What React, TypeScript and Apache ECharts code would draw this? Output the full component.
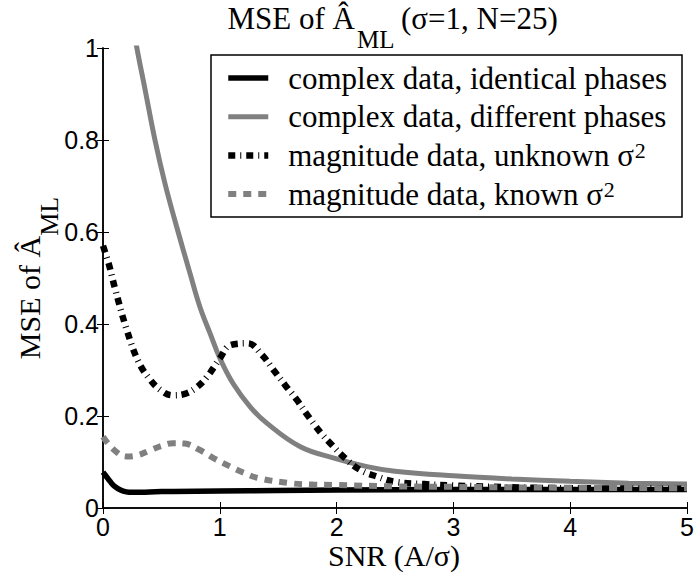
import React, { useEffect, useRef } from 'react';
import * as echarts from 'echarts';

// SNR (A/sigma) samples and MSE values for each curve
const identicalSNR = [0, 0.03, 0.06, 0.1, 0.15, 0.2, 0.25, 0.3, 0.4, 0.6, 1, 1.5, 2, 3, 4, 5];
const identicalMSE = [0.078, 0.068, 0.058, 0.047, 0.039, 0.035, 0.034, 0.034, 0.035, 0.036, 0.037, 0.038, 0.039, 0.04, 0.04, 0.04];

const differentSNR = [0.2, 0.25, 0.29, 0.36, 0.445, 0.53, 0.63, 0.745, 0.83, 0.916, 1.0, 1.115, 1.26, 1.4, 1.69, 1.97, 2.26, 2.5, 3, 3.5, 4, 4.5, 5];
const differentMSE = [1.13, 1.06, 1.0, 0.91, 0.8, 0.706, 0.612, 0.51, 0.437, 0.38, 0.326, 0.27, 0.22, 0.185, 0.133, 0.109, 0.09, 0.08, 0.07, 0.063, 0.058, 0.054, 0.052];

const unknownSNR = [0, 0.05, 0.1, 0.2, 0.3, 0.4, 0.5, 0.6, 0.7, 0.8, 0.89, 1.0, 1.09, 1.24, 1.36, 1.46, 1.56, 1.66, 1.75, 1.86, 1.96, 2.07, 2.2, 2.35, 2.5, 2.75, 3, 3.5, 4, 5];
const unknownMSE = [0.57, 0.53, 0.48, 0.39, 0.32, 0.28, 0.255, 0.245, 0.248, 0.262, 0.285, 0.325, 0.354, 0.358, 0.333, 0.3, 0.267, 0.235, 0.202, 0.165, 0.137, 0.109, 0.083, 0.068, 0.057, 0.052, 0.049, 0.045, 0.043, 0.042];

const knownSNR = [0, 0.1, 0.2, 0.3, 0.4, 0.5, 0.6, 0.7, 0.83, 0.95, 1.09, 1.2, 1.33, 1.6, 1.8, 2.0, 2.5, 3, 4, 5];
const knownMSE = [0.155, 0.125, 0.112, 0.115, 0.125, 0.135, 0.141, 0.14, 0.126, 0.108, 0.09, 0.077, 0.065, 0.054, 0.051, 0.05, 0.047, 0.046, 0.044, 0.043];

const seriesNames = [
  'complex data, identical phases',
  'complex data, different phases',
  'magnitude data, unknown σ2',
  'magnitude data, known σ2',
];
const legendTexts = [
  '{m|complex data, identical phases}',
  '{m|complex data, different phases}',
  '{m|magnitude data, unknown σ}{p|2}',
  '{m|magnitude data, known σ}{p|2}',
];

const titleMain = 'MSE of Â';
const titleSub = 'ML';
const titleRest = '(σ=1, N=25)';
const yNameText = '{a|MSE of Â}{s|ML}';
const xNameText = 'SNR (A/σ)';

const SERIF = 'Liberation Serif';
const SANS = 'Liberation Sans';
const GRAY = '#808080';

function pairs(xs: number[], ys: number[]) {
  return xs.map((x, i) => [x, ys[i]]);
}

export default function App() {
  const ref = useRef<HTMLDivElement>(null);
  useEffect(() => {
    const chart = echarts.init(ref.current!, null, { renderer: 'svg' });
    const axisCommon = {
      type: 'value' as const,
      axisLine: { show: true, lineStyle: { color: '#000', width: 1.5 } },
      axisTick: { show: true, inside: true, length: 6, lineStyle: { color: '#000', width: 1 } },
      splitLine: { show: false },
    };
    const lineStyles: any[] = [
      { color: '#000', width: 5.5 },
      { color: GRAY, width: 5 },
      { color: '#000', width: 6.5, type: [7, 5, 1, 5], cap: 'butt' },
      { color: GRAY, width: 6, type: [8, 7], cap: 'butt' },
    ];
    const seriesData = [
      pairs(identicalSNR, identicalMSE),
      pairs(differentSNR, differentMSE),
      pairs(unknownSNR, unknownMSE),
      pairs(knownSNR, knownMSE),
    ];
    const option: any = {
      animation: false,
      backgroundColor: '#fff',
      grid: { left: 103, top: 48, right: 10, bottom: 66, containLabel: false },
      xAxis: [
        {
          ...axisCommon,
          position: 'bottom',
          min: 0,
          max: 5,
          interval: 1,
          axisLabel: { color: '#000', fontFamily: SANS, fontSize: 25, margin: 6 },
        },
        {
          ...axisCommon,
          position: 'top',
          min: 0,
          max: 5,
          interval: 1,
          axisLabel: { show: false },
        },
      ],
      yAxis: [
        {
          ...axisCommon,
          position: 'left',
          min: 0,
          max: 1,
          interval: 0.2,
          axisLabel: { color: '#000', fontFamily: SANS, fontSize: 25, margin: 4 },
        },
        {
          ...axisCommon,
          position: 'right',
          min: 0,
          max: 1,
          interval: 0.2,
          axisLabel: { show: false },
        },
      ],
      legend: {
        orient: 'vertical',
        left: 225,
        top: 62.5,
        padding: 0,
        itemWidth: 40,
        itemHeight: 2,
        itemGap: 7.7,
        data: seriesNames.map((name, i) => ({ name, lineStyle: { ...lineStyles[i] } })),
        formatter: (name: string) => legendTexts[seriesNames.indexOf(name)],
        textStyle: {
          color: '#000',
          rich: {
            m: { fontFamily: SERIF, fontSize: 31, lineHeight: 31, color: '#000', padding: [0, 0, 0, 15] },
            p: { fontFamily: SERIF, fontSize: 22, lineHeight: 8, verticalAlign: 'top', color: '#000', padding: [0, 0, 0, 1] },
          },
        },
      },
      graphic: [
        {
          type: 'rect',
          z: 100,
          shape: { x: 211, y: 55, width: 471, height: 162 },
          style: { fill: 'none', stroke: '#000', lineWidth: 1.5 },
        },
        {
          type: 'text',
          z: 100,
          x: 355,
          y: 18,
          style: { text: titleMain, align: 'right', verticalAlign: 'middle', fontFamily: SERIF, fontSize: 31, fill: '#000' },
        },
        {
          type: 'text',
          z: 100,
          x: 357,
          y: 39,
          style: { text: titleSub, align: 'left', verticalAlign: 'middle', fontFamily: SERIF, fontSize: 25, fill: '#000' },
        },
        {
          type: 'text',
          z: 100,
          x: 401,
          y: 18,
          style: { text: titleRest, align: 'left', verticalAlign: 'middle', fontFamily: SERIF, fontSize: 31, fill: '#000' },
        },
        {
          type: 'text',
          z: 100,
          x: 14,
          y: 278,
          rotation: Math.PI / 2,
          style: {
            text: yNameText,
            align: 'center',
            verticalAlign: 'top',
            rich: {
              a: { fontFamily: SERIF, fontSize: 30, lineHeight: 30, verticalAlign: 'top', fill: '#000' },
              s: { fontFamily: SERIF, fontSize: 26, lineHeight: 26, verticalAlign: 'top', padding: [22, 0, 0, 0], fill: '#000' },
            },
          },
        },
        {
          type: 'text',
          z: 100,
          x: 394,
          y: 555,
          style: {
            text: xNameText,
            align: 'center',
            verticalAlign: 'middle',
            fontFamily: SERIF,
            fontSize: 30,
            lineHeight: 24,
            fill: '#000',
          },
        },
      ],
      series: seriesNames.map((name, i) => ({
        name,
        type: 'line',
        symbol: 'none',
        smooth: 0.4,
        data: seriesData[i],
        lineStyle: lineStyles[i],
        itemStyle: { color: lineStyles[i].color },
      })),
    };
    chart.setOption(option);
    return () => chart.dispose();
  }, []);
  return <div ref={ref} style={{ position: 'fixed', left: 0, top: 0, width: 697, height: 574 }} />;
}
